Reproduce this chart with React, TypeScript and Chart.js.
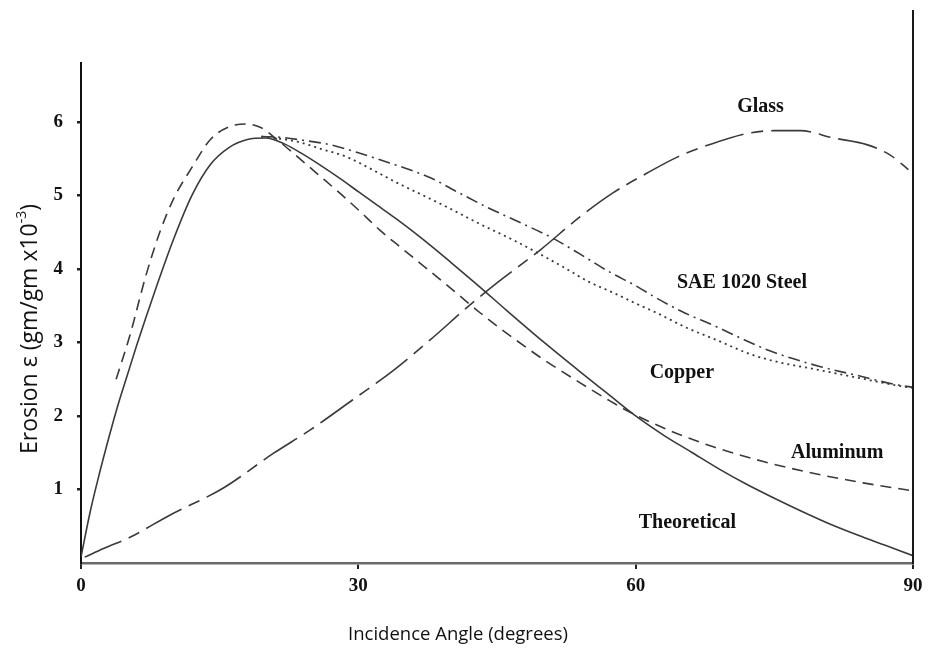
import React, { useEffect, useRef } from 'react';
import { Chart, registerables } from 'chart.js';

Chart.register(...registerables);

// ---- data ----
const theoreticalAngle = [0, 1, 2, 3, 4, 5, 6, 8, 10, 12, 14, 16, 18, 20, 22, 24, 26, 28, 30, 32, 34, 36, 38, 40, 43, 46, 50, 54, 57, 60, 63, 66, 69, 72, 75, 78, 81, 84, 87, 90];
const theoreticalErosion = [0.08, 0.7, 1.22, 1.7, 2.15, 2.55, 2.95, 3.7, 4.4, 5.0, 5.42, 5.65, 5.76, 5.78, 5.7, 5.56, 5.4, 5.23, 5.05, 4.87, 4.69, 4.5, 4.3, 4.09, 3.77, 3.44, 3.01, 2.6, 2.3, 2.0, 1.74, 1.51, 1.28, 1.07, 0.88, 0.7, 0.53, 0.38, 0.24, 0.1];

const aluminumAngle = [3.8, 5.3, 7, 8.5, 10, 12, 14, 16, 17.8, 19.5, 21, 22.9, 25.5, 28, 30.2, 32.3, 34.8, 38.8, 41, 43.2, 46.1, 50, 54, 57, 59.4, 63.7, 68.4, 73.8, 79.2, 84.6, 90];
const aluminumErosion = [2.5, 3.1, 3.9, 4.49, 4.95, 5.38, 5.76, 5.93, 5.97, 5.92, 5.78, 5.58, 5.3, 5.03, 4.78, 4.53, 4.27, 3.86, 3.63, 3.4, 3.12, 2.77, 2.45, 2.22, 2.05, 1.8, 1.58, 1.38, 1.22, 1.09, 0.98];

const steelAngle = [19.5, 21.5, 24, 26.9, 30, 33.4, 35.5, 37.8, 40.5, 43.9, 47.5, 51, 54, 57, 60, 62.3, 65, 68.8, 71.5, 74.2, 77, 80, 84, 88, 90];
const steelErosion = [5.8, 5.79, 5.75, 5.69, 5.58, 5.44, 5.35, 5.24, 5.06, 4.84, 4.63, 4.42, 4.2, 3.97, 3.77, 3.6, 3.42, 3.21, 3.05, 2.9, 2.78, 2.67, 2.55, 2.43, 2.39];

const copperAngle = [19.5, 21.5, 23.4, 26, 28.8, 31.5, 34.2, 37, 39.6, 43, 46.8, 49.5, 52.1, 55, 57.5, 60, 62.3, 65.5, 68.8, 72.4, 75.5, 79.2, 84, 88, 90];
const copperErosion = [5.8, 5.77, 5.73, 5.63, 5.52, 5.35, 5.17, 5.0, 4.84, 4.62, 4.39, 4.21, 4.03, 3.82, 3.68, 3.53, 3.4, 3.2, 3.03, 2.84, 2.73, 2.64, 2.52, 2.42, 2.38];

const glassAngle = [0.4, 2.5, 5.3, 9.6, 15.4, 20.8, 24.8, 29.4, 33.8, 38.1, 41.8, 45, 49.7, 54, 57.5, 61.2, 64.5, 68, 72.4, 75, 77.8, 81.4, 85, 87.5, 89.5];
const glassErosion = [0.08, 0.2, 0.35, 0.65, 1.02, 1.49, 1.81, 2.22, 2.62, 3.07, 3.48, 3.81, 4.26, 4.71, 5.03, 5.3, 5.52, 5.69, 5.85, 5.88, 5.88, 5.78, 5.69, 5.55, 5.35];

const xTickValues = [0, 30, 60, 90];
const yTickValues = [1, 2, 3, 4, 5, 6];

const curveLabels = ['Glass', 'SAE 1020 Steel', 'Copper', 'Aluminum', 'Theoretical'];
const curveLabelAngle = [73.5, 71.5, 65, 81.8, 65.6];
const curveLabelErosion = [6.2, 3.81, 2.58, 1.5, 0.54];

const xTitle = 'Incidence Angle (degrees)';
const yTitleMain = 'Erosion \u03b5 (gm/gm x10';
const yTitleSup = '-3';
const yTitleEnd = ')';

const LINE = '#3a3a3a';

function pts(xs: number[], ys: number[]) {
  return xs.map((x, i) => ({ x, y: ys[i] }));
}

const decorPlugin = {
  id: 'decor',
  afterDraw(chart: any) {
    const { ctx, chartArea, scales } = chart;
    ctx.save();
    // right frame line (extends above the plot)
    ctx.strokeStyle = '#1a1a1a';
    ctx.lineWidth = 2;
    ctx.beginPath();
    ctx.moveTo(chartArea.right, 10);
    ctx.lineTo(chartArea.right, chartArea.bottom + 1);
    ctx.stroke();

    // curve labels
    ctx.fillStyle = '#111';
    ctx.font = 'bold 20px "Liberation Serif"';
    ctx.textAlign = 'center';
    ctx.textBaseline = 'middle';
    curveLabels.forEach((t, i) => {
      ctx.fillText(t, scales.x.getPixelForValue(curveLabelAngle[i]), scales.y.getPixelForValue(curveLabelErosion[i]));
    });

    // x title
    ctx.font = '18.5px "Open Sans"';
    ctx.fillText(xTitle, 458, 635);

    // y title, rotated, with superscript
    ctx.translate(30, 329);
    ctx.rotate(-Math.PI / 2);
    const mainFont = '23px "Open Sans"';
    const supFont = '14px "Open Sans"';
    ctx.font = mainFont;
    const w1 = ctx.measureText(yTitleMain).width;
    const w3 = ctx.measureText(yTitleEnd).width;
    ctx.font = supFont;
    const w2 = ctx.measureText(yTitleSup).width;
    let x0 = -(w1 + w2 + w3) / 2;
    ctx.textAlign = 'left';
    ctx.font = mainFont;
    ctx.fillText(yTitleMain, x0, 0);
    x0 += w1;
    ctx.font = supFont;
    ctx.fillText(yTitleSup, x0, -8);
    x0 += w2;
    ctx.font = mainFont;
    ctx.fillText(yTitleEnd, x0, 0);
    ctx.restore();
  },
};

export default function App() {
  const ref = useRef<HTMLCanvasElement | null>(null);

  useEffect(() => {
    document.body.style.margin = '0';
    const canvas = ref.current;
    if (!canvas) return;
    const tickFont = { family: '"Liberation Serif"', size: 19, weight: 'bold' as const };
    const chart = new Chart(canvas, {
      type: 'line',
      data: {
        datasets: [
          { label: 'Theoretical', data: pts(theoreticalAngle, theoreticalErosion), borderColor: LINE, borderWidth: 1.6, borderDash: [] },
          { label: 'Aluminum', data: pts(aluminumAngle, aluminumErosion), borderColor: LINE, borderWidth: 1.6, borderDash: [11, 7] },
          { label: 'SAE 1020 Steel', data: pts(steelAngle, steelErosion), borderColor: LINE, borderWidth: 1.6, borderDash: [12, 5, 2, 5] },
          { label: 'Copper', data: pts(copperAngle, copperErosion), borderColor: LINE, borderWidth: 1.8, borderDash: [2, 4] },
          { label: 'Glass', data: pts(glassAngle, glassErosion), borderColor: LINE, borderWidth: 1.6, borderDash: [40, 8, 12, 8] },
        ],
      },
      options: {
        animation: false,
        responsive: false,
        maintainAspectRatio: false,
        parsing: false as any,
        layout: { padding: { top: 63, right: 27, left: 0, bottom: 0 } },
        elements: {
          point: { radius: 0 },
          line: { cubicInterpolationMode: 'monotone', fill: false },
        },
        plugins: { legend: { display: false }, tooltip: { enabled: false }, title: { display: false } },
        scales: {
          x: {
            type: 'linear',
            min: 0,
            max: 90,
            afterBuildTicks: (s: any) => { s.ticks = xTickValues.map((v) => ({ value: v })); },
            afterFit: (s: any) => { s.height = 97; },
            ticks: { font: tickFont, color: '#111', padding: 6, maxRotation: 0 },
            grid: { drawOnChartArea: false, drawTicks: true, tickLength: 6, color: '#222', lineWidth: 2 },
            border: { display: true, color: '#6a6a6a', width: 2.5 },
          },
          y: {
            type: 'linear',
            min: 0,
            max: 6.8,
            afterBuildTicks: (s: any) => { s.ticks = yTickValues.map((v) => ({ value: v })); },
            afterFit: (s: any) => { s.width = 81; },
            ticks: { font: tickFont, color: '#111', padding: 14 },
            grid: { drawOnChartArea: false, drawTicks: true, tickLength: 4, color: '#222', lineWidth: 2.5 },
            border: { display: true, color: '#111', width: 2 },
          },
        },
      },
      plugins: [decorPlugin],
    } as any);
    return () => chart.destroy();
  }, []);

  return (
    <div style={{ width: 940, height: 660, background: '#fff' }}>
      <canvas ref={ref} width={940} height={660} style={{ display: 'block' }} />
    </div>
  );
}
